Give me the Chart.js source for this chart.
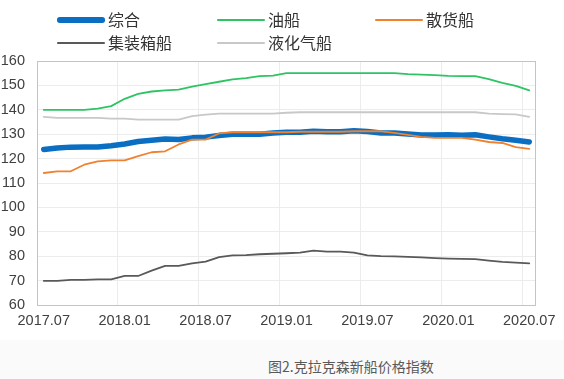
<!DOCTYPE html>
<html><head><meta charset="utf-8">
<script src="https://cdn.jsdelivr.net/npm/chart.js@4/dist/chart.umd.min.js"></script>
<style>
html,body{margin:0;padding:0;background:#fff;}
#wrap{position:relative;width:564px;height:379px;overflow:hidden;background:#fafafa;}
#top{position:absolute;left:0;top:0;width:564px;height:340px;background:#fff;}
canvas{position:absolute;left:0;top:0;}
.lg{position:absolute;font-family:"Noto Sans CJK SC",sans-serif;font-size:16px;color:#333;line-height:20px;}
.ln{position:absolute;}
#cap{position:absolute;left:268px;top:356px;font-family:"Noto Sans CJK SC",sans-serif;font-size:14px;color:#595959;white-space:nowrap;}
</style></head>
<body><div id="wrap"><div id="top"></div><canvas id="c" width="564" height="340"></canvas><div id="legend"></div><div id="cap">图2.克拉克森新船价格指数</div></div>
<script>
const categories = ["2017.07","2017.08","2017.09","2017.10","2017.11","2017.12","2018.01","2018.02","2018.03","2018.04","2018.05","2018.06","2018.07","2018.08","2018.09","2018.10","2018.11","2018.12","2019.01","2019.02","2019.03","2019.04","2019.05","2019.06","2019.07","2019.08","2019.09","2019.10","2019.11","2019.12","2020.01","2020.02","2020.03","2020.04","2020.05","2020.06","2020.07"];
const composite = [123.7,124.3,124.7,124.8,124.8,125.3,126.0,127.0,127.5,128.0,127.8,128.5,128.8,129.5,130.0,130.0,130.0,130.5,130.8,130.8,131.2,131.0,131.0,131.4,131.1,130.5,130.5,130.1,129.7,129.7,129.8,129.6,129.8,128.9,128.1,127.5,126.8];
const tanker = [140,140,140,140,140.5,141.5,144.5,146.5,147.5,148,148.3,149.5,150.5,151.5,152.5,153,153.8,154,155,155,155,155,155,155,155,155,155,154.6,154.4,154.2,153.9,153.8,153.8,152.6,151,149.8,148];
const bulker = [114.1,114.8,114.8,117.5,118.9,119.3,119.3,121,122.6,123,125.8,127.8,127.8,130.3,130.8,130.8,130.8,130.8,130.8,131,131,131,131,131.2,131.2,131.2,130.5,129.7,128.9,128.5,128.5,128.5,127.8,126.8,126.4,124.7,124];
const container = [69.9,69.9,70.3,70.3,70.5,70.5,71.9,71.9,74.1,76,76,77.1,77.8,79.6,80.3,80.4,80.8,81,81.2,81.5,82.3,81.9,81.9,81.5,80.3,80,79.9,79.7,79.5,79.2,79,78.9,78.8,78.2,77.7,77.4,77.1];
const gasCarrier = [137.1,136.7,136.7,136.7,136.7,136.4,136.4,136,136,136,136,137.4,138,138.4,138.4,138.4,138.4,138.4,138.8,139,139,139,139,139,139,139,139,139,139,139,139,139,139,138.4,138.2,138.1,137.1];
const yTicks = [60,70,80,90,100,110,120,130,140,150,160];

const series = [
  {label:"综合", data:composite, color:"#0a6fc2", width:5.5, order:10, lx:57, ly:20},
  {label:"油船", data:tanker, color:"#2ec463", width:1.8, order:2, lx:217, ly:20},
  {label:"散货船", data:bulker, color:"#f0812e", width:1.8, order:1, lx:375, ly:20},
  {label:"集装箱船", data:container, color:"#595959", width:1.8, order:4, lx:57, ly:43},
  {label:"液化气船", data:gasCarrier, color:"#c8c8c8", width:1.8, order:5, lx:217, ly:43}
];

// HTML legend
const lg = document.getElementById('legend');
series.forEach(s=>{
  const l = document.createElement('div');
  l.className='ln';
  l.style.left = s.lx+'px'; l.style.width='48px';
  l.style.top = (s.ly - s.width/2)+'px'; l.style.height = s.width+'px';
  l.style.background = s.color; l.style.borderRadius = (s.width/2)+'px';
  lg.appendChild(l);
  const t = document.createElement('div');
  t.className='lg'; t.textContent = s.label;
  t.style.left = (s.lx+51)+'px'; t.style.top = (s.ly-11)+'px';
  lg.appendChild(t);
});

const borderPlugin = {
  id:'plotBorder',
  afterDatasetsDraw(chart){
    const a = chart.chartArea, c = chart.ctx;
    c.save(); c.strokeStyle='#c4c4c4'; c.lineWidth=1;
    c.strokeRect(Math.round(a.left)+0.5, Math.round(a.top)+0.5, Math.round(a.right-a.left)-1, Math.round(a.bottom-a.top));
    c.restore();
  }
};

new Chart(document.getElementById('c'), {
  type:'line',
  data:{
    labels:categories,
    datasets: series.map(s=>({label:s.label, data:s.data, borderColor:s.color, backgroundColor:s.color,
      borderWidth:s.width, pointRadius:0, tension:0, order:s.order, borderCapStyle:'round', borderJoinStyle:'round'}))
  },
  options:{
    responsive:false, animation:false, devicePixelRatio:1,
    layout:{padding:{top:61, right:28, left:0, bottom:0}},
    plugins:{legend:{display:false}, tooltip:{enabled:false}},
    scales:{
      x:{
        type:'category', offset:true,
        grid:{offset:true, drawTicks:false, color:(ctx)=> (ctx.index%6===0 ? '#ececec' : 'rgba(0,0,0,0)'), lineWidth:1},
        border:{display:false},
        ticks:{autoSkip:false, maxRotation:0, padding:7, color:'#404040', font:{family:'"Liberation Sans", Arial, sans-serif', size:14.5},
          callback:function(v,i){ return i%6===0 ? categories[i] : ''; }},
        afterFit(scale){ scale.height = 35; }
      },
      y:{
        min:60, max:160,
        afterBuildTicks(scale){ scale.ticks = yTicks.map(v=>({value:v})); },
        grid:{drawTicks:false, color:'#ececec'},
        border:{display:false},
        ticks:{padding:12, color:'#404040', font:{family:'"Liberation Sans", Arial, sans-serif', size:14.5}},
        afterFit(scale){ scale.width = 37; }
      }
    }
  },
  plugins:[borderPlugin]
});
</script></body></html>
